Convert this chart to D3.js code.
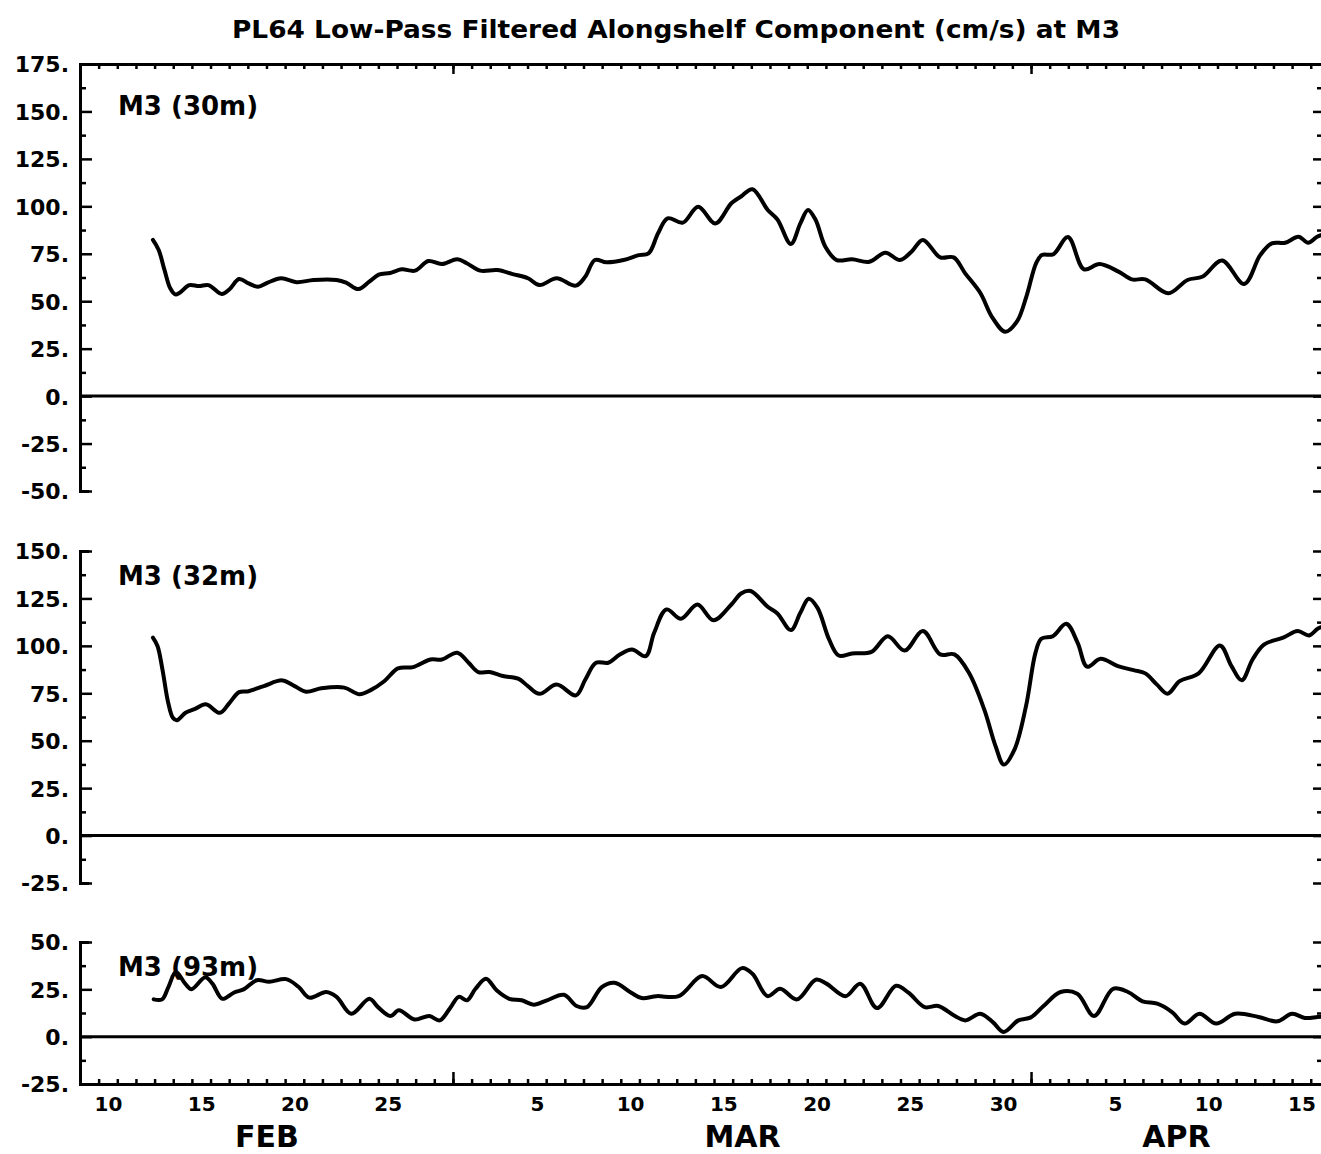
<!DOCTYPE html>
<html>
<head>
<meta charset="utf-8">
<script src="https://cdn.jsdelivr.net/npm/d3@7"></script>
<style>
  html, body { margin: 0; padding: 0; background: #fff; }
  svg { display: block; }
  text { font-family: "DejaVu Sans", "Liberation Sans", sans-serif; font-weight: bold; fill: #000; }
</style>
</head>
<body>
<svg id="chart" width="1321" height="1154"></svg>
<script>
// ---------------- DATA ----------------
// x values: days since 9 Feb 00:00 (Feb has 28 days; Mar 1 = day 20, Apr 1 = day 51)
const title = "PL64 Low-Pass Filtered Alongshelf Component (cm/s) at M3";
const panelLabels = ["M3 (30m)", "M3 (32m)", "M3 (93m)"];

const m30Days = [3.91,4.22,4.53,4.84,5.11,5.35,5.86,6.38,6.89,7.6,8.02,8.53,9.04,9.55,10.07,10.79,11.61,12.53,13.76,14.27,14.93,15.51,16.02,16.63,17.25,17.97,18.68,19.4,20.23,20.74,21.46,22.38,23.2,24.02,24.64,25.56,26.59,27.1,27.61,28.23,29.15,29.97,30.49,31.0,31.51,32.33,33.15,34.07,34.93,35.45,36.06,36.88,37.4,38.12,38.63,39.04,39.45,39.97,40.58,41.4,42.33,43.19,43.97,44.59,45.2,46.13,46.85,47.47,48.29,48.9,49.62,50.24,50.75,51.27,51.58,52.2,52.98,53.84,54.67,55.69,56.41,57.13,58.36,59.39,60.21,61.24,62.43,63.29,63.91,64.63,65.35,65.86,66.34,66.6];
const m30Vals = [82.3,77,66.5,56.8,53.6,54.5,58.5,58,58.5,53.8,56.3,61.7,59.4,57.6,59.8,62.1,60,61.2,61.2,59.8,56.4,60.3,64,64.9,66.8,66.1,71.2,69.6,72.1,70,66.1,66.4,64.3,62.1,58.5,62.1,58.2,63,71.7,70.5,71.7,74.3,75.2,85.8,93.7,91.4,99.8,91,101.6,105.2,109,98.1,93.1,80.2,91,98.1,92.8,78.7,71.7,72.1,70.8,75.6,71.7,76.1,82.3,73.1,73.1,64.7,54.2,41.8,33.9,39.2,52.4,70,74.3,74.8,83.8,66.8,69.6,65.6,61.5,61.5,54.2,61.2,63,71.5,59.1,74.3,80.5,80.8,84,80.8,84,85];

const m32Days = [3.91,4.16,4.42,4.73,4.98,5.19,5.66,6.17,6.75,7.5,8.02,8.53,9.04,9.86,10.85,11.51,12.12,12.94,14.17,14.99,15.61,16.33,17.05,17.86,18.79,19.4,20.23,20.84,21.36,21.97,22.68,23.5,24.02,24.64,25.56,26.59,27.1,27.67,28.33,28.95,29.6,30.34,30.79,31.45,32.23,33.11,33.97,34.93,35.45,35.96,36.88,37.4,38.12,38.63,39.08,39.55,40.17,40.69,41.4,42.44,43.32,44.22,45.2,46.13,46.89,47.67,48.49,49.1,49.54,50.11,50.73,51.24,51.55,52.17,52.89,53.5,54.01,54.73,55.66,56.5,57.13,57.74,58.32,58.97,59.99,61.13,61.75,62.3,62.88,63.49,64.52,65.3,65.91,66.37,66.6];
const m32Vals = [104.3,99.8,87.6,70,62.1,60.8,64.7,66.8,69.2,64.7,70,75.6,76.1,78.8,81.8,78.8,75.8,77.6,78,74.5,76.8,81.5,88.1,88.8,92.8,92.8,96.4,91.1,86.2,86.2,84.1,82.7,78.8,74.7,79.6,73.9,82.3,91.1,91.1,95.4,98.1,94.6,106.9,119.2,114.3,121.8,113.5,121.8,127.6,128.9,120.6,117.1,108.3,117.4,124.8,120,103.4,94.9,96,96.8,105.1,97.5,107.8,95.5,95.5,85.8,66.5,47.1,37.4,45.3,68.2,96.4,103.7,105.1,111.6,101.6,89,93.2,89.3,87.2,85.5,79.7,74.8,81.4,85.5,100.2,89.3,81.9,92.8,100.7,104.3,107.8,105.5,109,110];

const m93Days = [3.95,4.4,4.74,5.14,5.64,5.98,6.72,7.1,7.63,8.24,8.8,9.48,10.15,11.06,11.73,12.3,13.2,13.76,14.55,15.52,15.98,16.65,17.1,17.94,18.73,19.29,19.85,20.31,20.76,21.21,21.77,22.34,23.02,23.69,24.33,25.04,25.95,26.63,27.19,27.98,28.66,29.56,30.12,30.92,32.11,33.36,34.37,35.5,36.06,36.87,37.55,38.45,39.46,40.03,41.05,41.84,42.74,43.76,44.43,45.3,46.02,46.92,47.48,48.28,48.95,49.52,50.32,50.99,51.67,52.58,53.48,54.38,55.4,56.2,56.98,57.77,58.56,59.24,60.03,60.93,61.95,63.2,64.21,65.0,65.68,66.36,66.6];
const m93Vals = [19.7,19.7,26.2,34.1,28,25.1,31.4,28,20,23.2,25.1,29.8,29,30.4,26.2,20.6,23.6,21,12.1,20,15.6,10.9,13.9,9.1,10.9,8.6,15.1,21,19.2,25.3,30.6,24.5,20,19.2,16.9,19.2,22.1,16.2,15.6,26.2,28.5,23.2,20.4,21.4,21.4,32,26.2,36.2,33.2,21.4,25.3,19.7,30.1,28,21.4,28,15.1,26.9,23.2,15.6,16.2,10.9,8.6,12.1,7.7,2.5,8.6,10.2,16.2,23.6,22.7,10.9,25.3,23.6,18.7,17.4,13,6.9,12.1,6.9,12.1,10.4,8.1,12.1,9.9,10.4,10.5];

const yDomains = [[-50, 175], [-25, 150], [-25, 50]];
const yMajorStep = 25;

const febLabels = [10, 15, 20, 25];
const marLabels = [5, 10, 15, 20, 25, 30];
const aprLabels = [5, 10, 15];
const monthNames = ["FEB", "MAR", "APR"];
const monthStarts = [0, 20, 51];   // day offsets of Feb 9 (axis start), Mar 1, Apr 1
const xDomain = [0, 66.55];

// ---------------- LAYOUT ----------------
const svg = d3.select("#chart");
const left = 80, right = 1321;
const panels = [
  { top: 64,  bottom: 491, days: m30Days, vals: m30Vals },
  { top: 551, bottom: 883, days: m32Days, vals: m32Vals },
  { top: 942, bottom: 1084, days: m93Days, vals: m93Vals }
];

const x = d3.scaleLinear().domain(xDomain).range([left, right]);
const dayTicks = d3.range(Math.ceil(xDomain[0]), Math.floor(xDomain[1]) + 1);

svg.append("text")
  .attr("x", 676).attr("y", 38)
  .attr("text-anchor", "middle")
  .attr("font-size", 24)
  .attr("textLength", 888).attr("lengthAdjust", "spacingAndGlyphs")
  .text(title);

function styleAxis(g, w) {
  g.selectAll("path.domain").attr("stroke", "#000").attr("stroke-width", w || 3).attr("fill", "none");
  g.selectAll(".tick line").attr("stroke", "#000").attr("stroke-width", 2.5);
}

panels.forEach((p, i) => {
  const [ymin, ymax] = yDomains[i];
  const y = d3.scaleLinear().domain([ymin, ymax]).range([p.bottom, p.top]);
  const major = d3.range(ymin, ymax + 0.01, yMajorStep);
  const minor = d3.range(ymin + yMajorStep / 2, ymax, yMajorStep);
  const g = svg.append("g");

  // left axis line with inward hooks, inward ticks
  const la = g.append("g").attr("transform", `translate(${left},0)`)
    .call(d3.axisRight(y).tickValues(major).tickSize(12).tickSizeOuter(9).tickFormat(""));
  styleAxis(la);
  const lm = g.append("g").attr("transform", `translate(${left},0)`)
    .call(d3.axisRight(y).tickValues(minor).tickSize(6).tickSizeOuter(0).tickFormat(""));
  lm.select("path.domain").remove();
  styleAxis(lm);
  // left labels
  const ll = g.append("g").attr("transform", `translate(${left},0)`)
    .call(d3.axisLeft(y).tickValues(major).tickSize(0).tickPadding(11).tickFormat(d => d + "."));
  ll.select("path.domain").remove();
  ll.selectAll("text").attr("font-size", 22).attr("font-family", "DejaVu Sans").attr("font-weight", "bold").attr("fill", "#000").attr("dy", "0.36em");

  // right ticks only
  const ra = g.append("g").attr("transform", `translate(${right},0)`)
    .call(d3.axisLeft(y).tickValues(major).tickSize(8).tickFormat(""));
  ra.select("path.domain").remove();
  styleAxis(ra);
  const rm = g.append("g").attr("transform", `translate(${right},0)`)
    .call(d3.axisLeft(y).tickValues(minor).tickSize(4).tickFormat(""));
  rm.select("path.domain").remove();
  styleAxis(rm);

  // zero line
  g.append("line")
    .attr("x1", left).attr("x2", right)
    .attr("y1", y(0)).attr("y2", y(0))
    .attr("stroke", "#000").attr("stroke-width", 3);

  // panel label
  g.append("text")
    .attr("x", 118).attr("y", p.top + (i === 0 ? 51 : 34))
    .attr("font-size", 26)
    .text(panelLabels[i]);

  // data line
  const line = d3.line()
    .x(d => x(d[0])).y(d => y(d[1]))
    .curve(d3.curveCatmullRom.alpha(0.5));
  g.append("path")
    .datum(p.days.map((d, k) => [d, p.vals[k]]))
    .attr("d", line)
    .attr("fill", "none").attr("stroke", "#000")
    .attr("stroke-width", 4).attr("stroke-linejoin", "round").attr("stroke-linecap", "round");

  if (i === 0) {
    // top axis with daily ticks
    const ta = g.append("g").attr("transform", `translate(0,${p.top})`)
      .call(d3.axisBottom(x).tickValues(dayTicks).tickSize(5).tickSizeOuter(0).tickFormat(""));
    styleAxis(ta);
    const tl = g.append("g").attr("transform", `translate(0,${p.top})`)
      .call(d3.axisBottom(x).tickValues(monthStarts.slice(1)).tickSize(10).tickFormat(""));
    tl.select("path.domain").remove();
    styleAxis(tl);
  }
  if (i === 2) {
    const ba = g.append("g").attr("transform", `translate(0,${p.bottom})`)
      .call(d3.axisTop(x).tickValues(dayTicks).tickSize(5).tickSizeOuter(0).tickFormat(""));
    styleAxis(ba);
    const bl = g.append("g").attr("transform", `translate(0,${p.bottom})`)
      .call(d3.axisTop(x).tickValues(monthStarts.slice(1)).tickSize(12).tickFormat(""));
    bl.select("path.domain").remove();
    styleAxis(bl);

    // day labels at day centres
    const labelDays = [];
    const labelText = [];
    febLabels.forEach(d => { labelDays.push(d - 9 + 0.5); labelText.push(String(d)); });
    marLabels.forEach(d => { labelDays.push(monthStarts[1] + d - 1 + 0.5); labelText.push(String(d)); });
    aprLabels.forEach(d => { labelDays.push(monthStarts[2] + d - 1 + 0.5); labelText.push(String(d)); });
    const xl = g.append("g").attr("transform", `translate(0,${p.bottom})`)
      .call(d3.axisBottom(x).tickValues(labelDays).tickSize(0).tickPadding(13)
        .tickFormat((d, k) => labelText[k]));
    xl.select("path.domain").remove();
    xl.selectAll("text").attr("font-size", 20).attr("font-family", "DejaVu Sans").attr("font-weight", "bold").attr("fill", "#000");

    // month labels centred in each month's span
    const ends = [monthStarts[1], monthStarts[2], xDomain[1]];
    const mx = monthNames.map((m, k) => (monthStarts[k] + ends[k]) / 2);
    const ml = g.append("g").attr("transform", `translate(0,${p.bottom})`)
      .call(d3.axisBottom(x).tickValues(mx).tickSize(0).tickPadding(42)
        .tickFormat((d, k) => monthNames[k]));
    ml.select("path.domain").remove();
    ml.selectAll("text").attr("font-size", 30).attr("font-family", "DejaVu Sans").attr("font-weight", "bold").attr("fill", "#000");
  }
});
</script>
</body>
</html>
